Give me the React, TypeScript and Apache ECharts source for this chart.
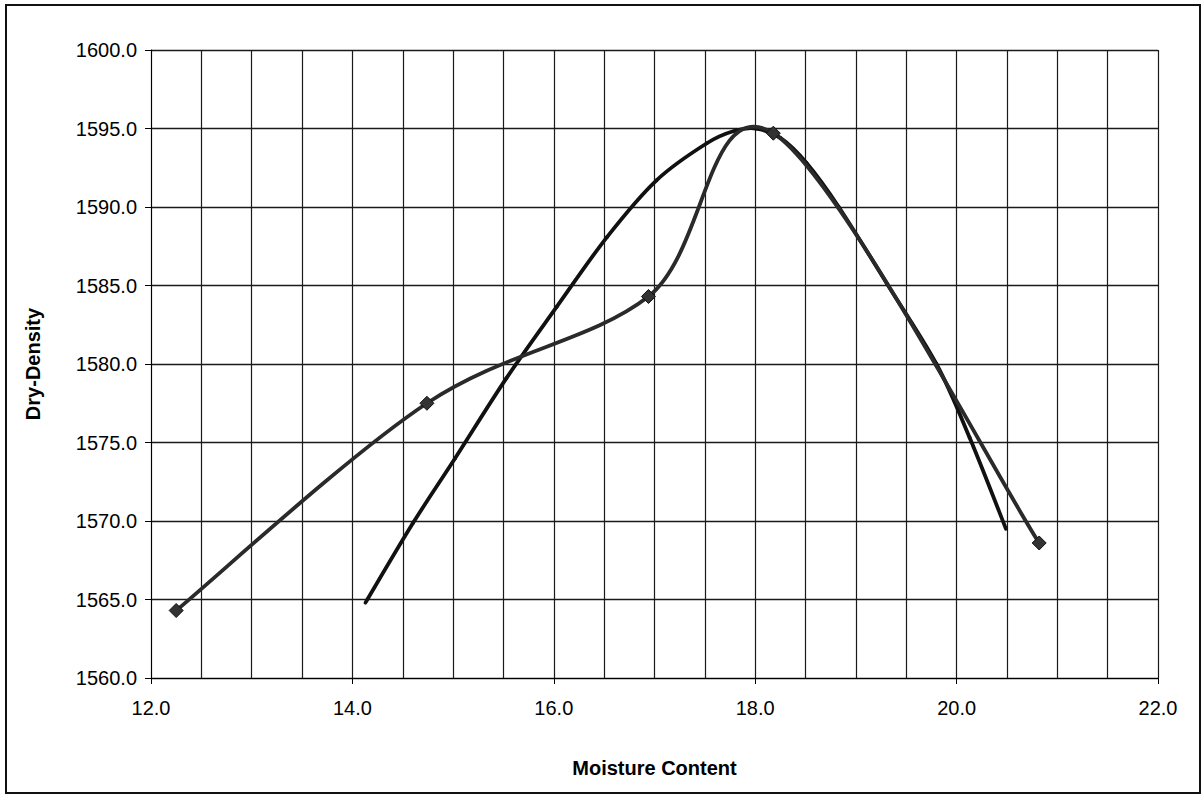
import React, { useEffect, useRef } from "react";
import * as echarts from "echarts";

const moisture = [12.25, 14.74, 16.94, 18.18, 20.82];
const dryDensity = [1564.3, 1577.5, 1584.3, 1594.7, 1568.6];

const trendX = [14.13, 14.6, 15.02, 15.53, 16.03, 16.53, 17.02, 17.52, 17.8, 18.01, 18.25, 18.51, 18.83, 19.31, 19.8, 20.13, 20.49];
const trendY = [1564.8, 1569.85, 1574.0, 1579.1, 1583.65, 1588.1, 1591.7, 1594.06, 1594.86, 1595.0, 1594.4, 1592.8, 1590.0, 1585.1, 1580.0, 1575.3, 1569.5];

const xTitle = "Moisture Content";
const yTitle = "Dry-Density";

// Smoothed (Catmull-Rom / Bezier) line through the given points, positioned via the axes
function smoothRenderer(xs: number[], ys: number[], stroke: string, width: number) {
  return (params: any, api: any) => {
    if (params.dataIndex !== 0) return null;
    const p = xs.map((x, i) => api.coord([x, ys[i]]));
    const children: any[] = [];
    for (let i = 0; i < p.length - 1; i++) {
      const p0 = p[i - 1] || p[i];
      const p1 = p[i];
      const p2 = p[i + 1];
      const p3 = p[i + 2] || p[i + 1];
      children.push({
        type: "bezierCurve",
        shape: {
          x1: p1[0],
          y1: p1[1],
          cpx1: p1[0] + (p2[0] - p0[0]) / 6,
          cpy1: p1[1] + (p2[1] - p0[1]) / 6,
          cpx2: p2[0] - (p3[0] - p1[0]) / 6,
          cpy2: p2[1] - (p3[1] - p1[1]) / 6,
          x2: p2[0],
          y2: p2[1],
        },
        style: { fill: null, stroke, lineWidth: width, lineCap: "round" },
      });
    }
    return { type: "group", children };
  };
}

export default function App() {
  const ref = useRef<HTMLDivElement>(null);
  useEffect(() => {
    if (!ref.current) return;
    const chart = echarts.init(ref.current, undefined, { renderer: "svg" });
    const font = "Arial, 'Liberation Sans', Helvetica, sans-serif";
    chart.setOption({
      animation: false,
      backgroundColor: "#ffffff",
      textStyle: { fontFamily: font },
      graphic: [
        {
          type: "rect",
          shape: { x: 6, y: 5, width: 1194, height: 788 },
          style: { fill: "none", stroke: "#111", lineWidth: 2 },
          silent: true,
        },
      ],
      grid: { left: 151, top: 50, right: 44, bottom: 118, containLabel: false },
      xAxis: {
        type: "value",
        min: 12,
        max: 22,
        interval: 2,
        name: xTitle,
        nameLocation: "middle",
        nameGap: 80,
        nameTextStyle: { fontSize: 20, fontWeight: "bold", color: "#000", fontFamily: font },
        axisLine: { show: true, lineStyle: { color: "#000", width: 1 } },
        axisTick: { show: true, inside: false, length: 6, lineStyle: { color: "#000" } },
        axisLabel: { fontSize: 20, color: "#000", margin: 20, formatter: (v: number) => v.toFixed(1) },
        splitLine: { show: true, lineStyle: { color: "#1a1a1a", width: 1.2 } },
        minorTick: { show: false, splitNumber: 4 },
        minorSplitLine: { show: true, lineStyle: { color: "#1a1a1a", width: 1.2 } },
      },
      yAxis: {
        type: "value",
        min: 1560,
        max: 1600,
        interval: 5,
        name: yTitle,
        nameLocation: "middle",
        nameGap: 108,
        nameTextStyle: { fontSize: 20, fontWeight: "bold", color: "#000", fontFamily: font },
        axisLine: { show: true, lineStyle: { color: "#000", width: 1 } },
        axisTick: { show: true, inside: false, length: 6, lineStyle: { color: "#000" } },
        axisLabel: { fontSize: 20, color: "#000", margin: 14, formatter: (v: number) => v.toFixed(1) },
        splitLine: { show: true, lineStyle: { color: "#1a1a1a", width: 1.4 } },
      },
      series: [
        {
          type: "custom",
          data: trendX.map((x, i) => [x, trendY[i]]),
          encode: { x: 0, y: 1 },
          renderItem: smoothRenderer(trendX, trendY, "#111", 3.8),
          z: 2,
          silent: true,
        },
        {
          type: "custom",
          data: moisture.map((x, i) => [x, dryDensity[i]]),
          encode: { x: 0, y: 1 },
          renderItem: smoothRenderer(moisture, dryDensity, "#2a2a2a", 3.8),
          z: 3,
          silent: true,
        },
        {
          type: "scatter",
          data: moisture.map((x, i) => [x, dryDensity[i]]),
          symbol: "diamond",
          symbolSize: 14,
          itemStyle: { color: "#333", borderColor: "#111", borderWidth: 1, opacity: 1 },
          z: 4,
        },
      ],
    });
    return () => chart.dispose();
  }, []);
  return (
    <div
      ref={ref}
      style={{ position: "absolute", left: 0, top: 0, width: 1202, height: 796, background: "#fff" }}
    />
  );
}
